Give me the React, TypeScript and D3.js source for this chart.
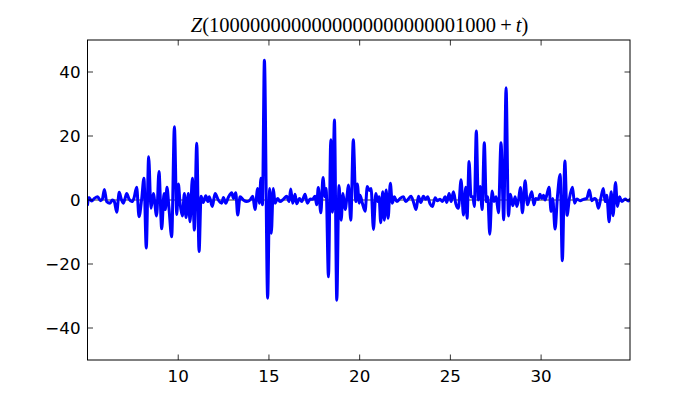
import React from "react";
import * as d3 from "d3";

const T: number[] = [
  5.0, 5.08, 5.23, 5.38, 5.56, 5.71, 5.82, 5.93, 6.06, 6.24, 6.37, 6.48, 6.61, 6.75, 6.86, 6.97, 7.07, 7.16, 7.29, 7.44,
  7.56, 7.71, 7.84, 7.99, 8.11, 8.24, 8.37, 8.5, 8.63, 8.81, 8.94, 9.09, 9.22, 9.29, 9.38, 9.49, 9.64, 9.79, 9.92,
  10.01, 10.1, 10.23, 10.34, 10.43, 10.56, 10.65, 10.78, 10.89, 11.02, 11.15, 11.26, 11.38, 11.52, 11.63, 11.71, 11.88,
  12.03, 12.21, 12.4, 12.49, 12.62, 12.76, 12.95, 13.04, 13.17, 13.28, 13.41, 13.59, 13.78, 13.96, 14.11, 14.23, 14.38,
  14.47, 14.56, 14.64, 14.75, 14.93,
  15.04, 15.13, 15.24, 15.34, 15.48, 15.61, 15.79, 15.98, 16.11, 16.2, 16.31, 16.44, 16.53, 16.68, 16.81, 16.99, 17.12,
  17.27, 17.41, 17.54, 17.63, 17.72, 17.86, 17.98, 18.09, 18.15, 18.28, 18.41, 18.5, 18.61, 18.74, 18.86, 18.98, 19.08,
  19.2, 19.31, 19.38, 19.51, 19.65, 19.79, 19.87, 19.98,
  20.02, 20.15, 20.3, 20.42, 20.53, 20.63, 20.76, 20.89, 21.0, 21.07, 21.16, 21.27, 21.36, 21.46, 21.57, 21.69, 21.8,
  21.91, 22.05, 22.23, 22.41, 22.54, 22.68, 22.83, 22.96, 23.11, 23.24, 23.37, 23.51, 23.64, 23.75, 23.88, 24.01, 24.16,
  24.28, 24.43, 24.56, 24.71, 24.8, 24.93,
  25.04, 25.17, 25.3, 25.44, 25.59, 25.72, 25.85, 25.92, 26.03, 26.14, 26.24, 26.32, 26.43, 26.54, 26.64, 26.75, 26.87,
  26.98, 27.06, 27.17, 27.3, 27.41, 27.52, 27.65, 27.79, 27.94, 28.07, 28.2, 28.31, 28.44, 28.57, 28.66, 28.77, 28.86,
  28.97, 29.12, 29.25, 29.35, 29.49, 29.6, 29.71, 29.85,
  29.94, 30.04, 30.13, 30.22, 30.31, 30.44, 30.55, 30.64, 30.77, 30.9, 31.05, 31.17, 31.31, 31.43, 31.56, 31.73, 31.84,
  31.97, 32.15, 32.33, 32.52, 32.66, 32.79, 32.94, 33.03, 33.16, 33.29, 33.43, 33.53, 33.62, 33.75, 33.86, 33.97, 34.1,
  34.21, 34.32, 34.45, 34.63, 34.81, 34.9,
];

const Z: number[] = [
  -1.5, 0.8, -0.3, 0.5, 1.0, -0.2, 0.3, 3.3, -0.5, -1.0, 0.0, -0.5, -3.8, 2.4, 0.3, -1.0, 0.5, 2.0, 0.3, -0.5,
  0.5, 4.0, -5.2, 0.5, 6.8, -15.0, 13.5, -2.6, 2.0, -5.0, 8.9, -9.0, 2.0, -3.0, 4.0, -2.5, -11.5, 22.9, -4.5,
  5.0, -1.0, -5.0, 2.0, -5.5, 2.0, -6.8, 6.8, -9.4, 17.7, -16.1, 1.2, -0.8, 1.3, -0.5, 1.0, -2.0,
  2.0, 0.0, -1.0, 0.8, -1.0, 0.8, 2.3, 0.5, 2.3, -4.7, 1.0, 0.0, -0.5, 0.0, 1.2, -3.0, 3.6,
  -1.0, 6.8, -1.5, 43.7, -30.7,
  3.6, -10.4, 3.6, -1.0, 0.5, -0.5, 0.2, 1.2, -0.5, 3.4, -1.0, 1.8, -1.2, 0.5, -0.5, 1.8, -1.0,
  0.3, 0.2, 1.2, -1.5, 3.9, -4.0, 7.0, 1.0, 3.6, -24.0, 18.8, -3.8, 25.0, -31.3, 4.5, -6.3, 2.0,
  -3.0, 1.5, 4.7, -6.3, 18.8, -0.5, 5.0, -1.0,
  1.5, -1.0, -3.5, 4.2, 3.0, 3.6, -9.2, 2.0, -0.5, 1.0, -7.1, 2.6, -6.3, 3.1, -5.7, 5.2, -1.0,
  1.0, -0.5, 0.5, 1.0, -0.5, 0.3, 1.2, -0.5, -3.0, 1.2, -0.8, 1.2, 0.2, 1.0, -1.2, -2.0, 0.7,
  -0.2, 0.2, -0.5, 1.0, -0.8, 2.0,
  -0.5, 2.6, -1.2, -2.6, 6.3, -4.7, 4.0, -5.7, 12.0, 1.0, 1.0, -2.0, 21.6, 0.0, 4.2, -3.0, 17.9,
  -0.5, 1.0, -10.7, 2.8, -0.5, 1.0, -4.0, 17.9, -6.2, 35.1, -5.0, 1.8, -1.8, 1.0, -2.0, 0.5, 3.9,
  -4.0, 6.0, -1.5, 0.3, 2.6, -1.5, 0.5, 0.2,
  1.8, 0.5, 1.5, 0.0, 1.5, 4.0, -3.6, 0.5, -9.1, 1.0, 8.0, -19.0, 12.2, -4.8, 0.5, 4.0, -1.0,
  0.3, -0.2, 0.2, 0.5, 3.1, -0.2, 0.5, 0.2, -2.6, 0.5, 3.6, -0.5, 1.5, -6.8, 2.6, -4.9, 5.5,
  -2.0, 1.0, -0.5, 0.3, -0.3, 0.2,
];

const X_TICKS: number[] = [10, 15, 20, 25, 30];
const Y_TICKS: number[] = [-40, -20, 0, 20, 40];
const X_DOMAIN: number[] = [5.0, 34.9];
const Y_DOMAIN: number[] = [-50, 50];
const TITLE_DIGITS = "1" + "0".repeat(23) + "1000";

const W = 700;
const H = 400;
const M = { left: 87.5, right: 630, top: 40, bottom: 360 };

export default function App() {
  const x = d3.scaleLinear().domain(X_DOMAIN).range([M.left, M.right]);
  const y = d3.scaleLinear().domain(Y_DOMAIN).range([M.bottom, M.top]);
  const pts: [number, number][] = T.map((t, i) => [t, Z[i]]);
  const line = d3
    .line<[number, number]>()
    .x((d) => x(d[0]))
    .y((d) => y(d[1]))
    .curve(d3.curveMonotoneX);
  const fmt = (v: number) => (v < 0 ? "\u2212" + Math.abs(v) : String(v));
  const tickLen = 5.5;
  const font = "'DejaVu Sans', sans-serif";

  return (
    <div style={{ position: "absolute", left: 0, top: 0 }}>
      <svg width={W} height={H} style={{ display: "block", background: "#fff" }}>
        <rect x={0} y={0} width={W} height={H} fill="#fff" />
        <defs>
          <clipPath id="plotclip">
            <rect x={M.left} y={M.top} width={M.right - M.left} height={M.bottom - M.top} />
          </clipPath>
        </defs>
        <line x1={M.left} x2={M.right} y1={y(0)} y2={y(0)} stroke="#000" strokeWidth={0.8} />
        <path
          d={line(pts) || ""}
          fill="none"
          stroke="#0000ff"
          strokeWidth={3}
          strokeLinejoin="round"
          strokeLinecap="round"
          clipPath="url(#plotclip)"
        />
        <rect
          x={M.left}
          y={M.top}
          width={M.right - M.left}
          height={M.bottom - M.top}
          fill="none"
          stroke="#000"
          strokeWidth={1}
        />
        {X_TICKS.map((v) => (
          <g key={"x" + v}>
            <line x1={x(v)} x2={x(v)} y1={M.bottom} y2={M.bottom - tickLen} stroke="#000" strokeWidth={0.8} />
            <line x1={x(v)} x2={x(v)} y1={M.top} y2={M.top + tickLen} stroke="#000" strokeWidth={0.8} />
            <text x={x(v)} y={M.bottom + 22} textAnchor="middle" fontFamily={font} fontSize={16.7} fill="#000">
              {fmt(v)}
            </text>
          </g>
        ))}
        {Y_TICKS.map((v) => (
          <g key={"y" + v}>
            <line x1={M.left} x2={M.left + tickLen} y1={y(v)} y2={y(v)} stroke="#000" strokeWidth={0.8} />
            <line x1={M.right} x2={M.right - tickLen} y1={y(v)} y2={y(v)} stroke="#000" strokeWidth={0.8} />
            <text
              x={M.left - 7}
              y={y(v)}
              dy="0.36em"
              textAnchor="end"
              fontFamily={font}
              fontSize={16.7}
              fill="#000"
            >
              {fmt(v)}
            </text>
          </g>
        ))}
        <text
          x={(M.left + M.right) / 2}
          y={32}
          textAnchor="middle"
          fontFamily="'Liberation Serif', serif"
          fontSize={20.5}
          fill="#000"
        >
          {"\u200A"}
          <tspan fontStyle="italic">Z</tspan>({TITLE_DIGITS}{"\u2009+\u2009"}<tspan fontStyle="italic">t</tspan>)
        </text>
      </svg>
    </div>
  );
}
